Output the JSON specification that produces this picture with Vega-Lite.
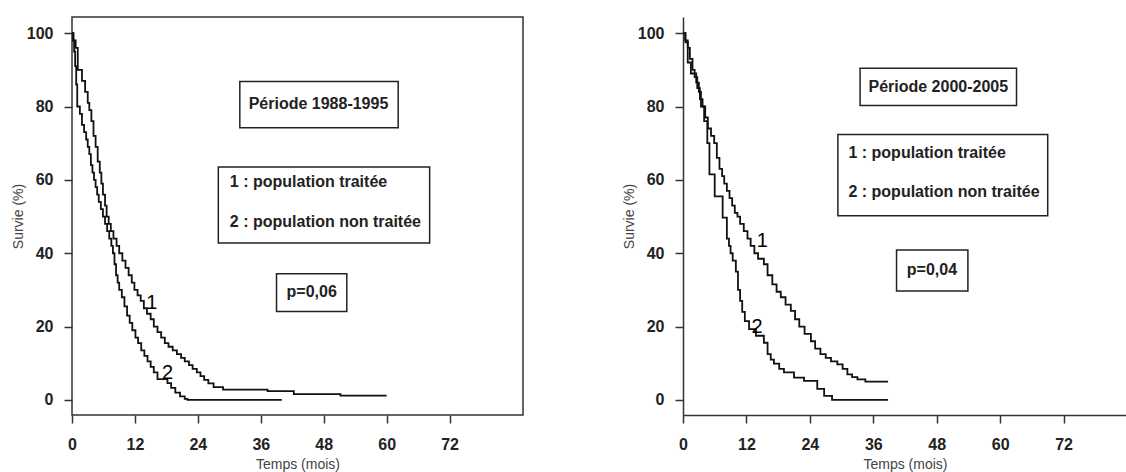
{
  "$schema": "https://vega.github.io/schema/vega-lite/v6.json",
  "padding": {"left": 10, "top": 16, "right": 0, "bottom": 0},
  "background": "white",
  "spacing": 98,
  "config": {
    "font": "Liberation Sans",
    "view": {"stroke": "#333", "strokeWidth": 1.5},
    "axis": {"grid": false, "tickSize": 8, "tickColor": "#333", "tickWidth": 1.5, "domain": false, "domainColor": "#333", "domainWidth": 1.5,
      "labelFont": "Liberation Sans", "labelFontSize": 16, "labelFontWeight": "bold", "labelColor": "#222",
      "titleFont": "Liberation Sans", "titleFontSize": 14, "titleFontWeight": "normal", "titleColor": "#444"},
    "axisX": {"labelPadding": 13, "titlePadding": 5, "labelFlush": false},
    "axisY": {"labelPadding": 11, "titlePadding": 1}
  },
  "datasets": {
    "left_curves": [
      {"curve": "1", "t": 0, "s": 100}, {"curve": "1", "t": 0.3, "s": 98}, {"curve": "1", "t": 0.7, "s": 96}, {"curve": "1", "t": 1.1, "s": 90}, {"curve": "1", "t": 1.9, "s": 87}, {"curve": "1", "t": 2.5, "s": 84}, {"curve": "1", "t": 3.0, "s": 81}, {"curve": "1", "t": 3.3, "s": 79}, {"curve": "1", "t": 3.7, "s": 76}, {"curve": "1", "t": 4.1, "s": 72}, {"curve": "1", "t": 4.5, "s": 69}, {"curve": "1", "t": 4.9, "s": 65}, {"curve": "1", "t": 5.3, "s": 62}, {"curve": "1", "t": 5.6, "s": 59}, {"curve": "1", "t": 5.9, "s": 56}, {"curve": "1", "t": 6.3, "s": 53}, {"curve": "1", "t": 6.6, "s": 50}, {"curve": "1", "t": 7.0, "s": 48}, {"curve": "1", "t": 7.4, "s": 46}, {"curve": "1", "t": 7.9, "s": 44}, {"curve": "1", "t": 8.5, "s": 42}, {"curve": "1", "t": 9.0, "s": 40}, {"curve": "1", "t": 9.6, "s": 38}, {"curve": "1", "t": 10.2, "s": 36}, {"curve": "1", "t": 10.8, "s": 34}, {"curve": "1", "t": 11.4, "s": 32}, {"curve": "1", "t": 11.9, "s": 30}, {"curve": "1", "t": 12.5, "s": 28.5}, {"curve": "1", "t": 13.1, "s": 27}, {"curve": "1", "t": 13.7, "s": 25}, {"curve": "1", "t": 14.3, "s": 23.5}, {"curve": "1", "t": 15.0, "s": 22}, {"curve": "1", "t": 15.6, "s": 20}, {"curve": "1", "t": 16.3, "s": 18.5}, {"curve": "1", "t": 17.0, "s": 17}, {"curve": "1", "t": 17.7, "s": 15.5}, {"curve": "1", "t": 18.4, "s": 14.5}, {"curve": "1", "t": 19.2, "s": 13.5}, {"curve": "1", "t": 20.0, "s": 12.5}, {"curve": "1", "t": 20.8, "s": 11.5}, {"curve": "1", "t": 21.5, "s": 10.5}, {"curve": "1", "t": 22.3, "s": 9.5}, {"curve": "1", "t": 23.0, "s": 8.5}, {"curve": "1", "t": 23.8, "s": 7.5}, {"curve": "1", "t": 24.5, "s": 6.5}, {"curve": "1", "t": 25.2, "s": 5.5}, {"curve": "1", "t": 26.0, "s": 4.5}, {"curve": "1", "t": 27.0, "s": 3.5}, {"curve": "1", "t": 28.8, "s": 2.8}, {"curve": "1", "t": 37.3, "s": 2.4}, {"curve": "1", "t": 42.3, "s": 1.6}, {"curve": "1", "t": 51.2, "s": 1.2}, {"curve": "1", "t": 60, "s": 1.2},
      {"curve": "2", "t": 0, "s": 100}, {"curve": "2", "t": 0.2, "s": 98}, {"curve": "2", "t": 0.4, "s": 95}, {"curve": "2", "t": 0.6, "s": 91}, {"curve": "2", "t": 0.8, "s": 86}, {"curve": "2", "t": 1.0, "s": 80}, {"curve": "2", "t": 1.5, "s": 78}, {"curve": "2", "t": 1.9, "s": 75}, {"curve": "2", "t": 2.3, "s": 73}, {"curve": "2", "t": 2.7, "s": 71}, {"curve": "2", "t": 3.0, "s": 69}, {"curve": "2", "t": 3.3, "s": 67}, {"curve": "2", "t": 3.6, "s": 64}, {"curve": "2", "t": 3.9, "s": 62}, {"curve": "2", "t": 4.2, "s": 60}, {"curve": "2", "t": 4.5, "s": 58}, {"curve": "2", "t": 4.8, "s": 56}, {"curve": "2", "t": 5.1, "s": 54}, {"curve": "2", "t": 5.5, "s": 52}, {"curve": "2", "t": 5.9, "s": 50}, {"curve": "2", "t": 6.3, "s": 48}, {"curve": "2", "t": 6.7, "s": 46}, {"curve": "2", "t": 7.1, "s": 44}, {"curve": "2", "t": 7.5, "s": 42}, {"curve": "2", "t": 7.8, "s": 40}, {"curve": "2", "t": 8.1, "s": 37}, {"curve": "2", "t": 8.4, "s": 34}, {"curve": "2", "t": 8.7, "s": 32}, {"curve": "2", "t": 9.0, "s": 30}, {"curve": "2", "t": 9.5, "s": 28}, {"curve": "2", "t": 10.0, "s": 25.5}, {"curve": "2", "t": 10.5, "s": 23}, {"curve": "2", "t": 11.0, "s": 21}, {"curve": "2", "t": 11.5, "s": 19}, {"curve": "2", "t": 12.1, "s": 17}, {"curve": "2", "t": 12.6, "s": 15.5}, {"curve": "2", "t": 13.2, "s": 13.5}, {"curve": "2", "t": 13.8, "s": 12}, {"curve": "2", "t": 14.4, "s": 10.5}, {"curve": "2", "t": 15.0, "s": 9}, {"curve": "2", "t": 15.6, "s": 7.5}, {"curve": "2", "t": 16.3, "s": 5.7}, {"curve": "2", "t": 18.2, "s": 4.6}, {"curve": "2", "t": 18.9, "s": 3.3}, {"curve": "2", "t": 19.7, "s": 2}, {"curve": "2", "t": 20.6, "s": 1}, {"curve": "2", "t": 21.5, "s": 0.3}, {"curve": "2", "t": 22, "s": 0}, {"curve": "2", "t": 40, "s": 0}
    ],
    "right_curves": [
      {"curve": "1", "t": 0, "s": 100}, {"curve": "1", "t": 0.4, "s": 98}, {"curve": "1", "t": 0.9, "s": 96}, {"curve": "1", "t": 1.3, "s": 93}, {"curve": "1", "t": 1.8, "s": 90}, {"curve": "1", "t": 2.2, "s": 88}, {"curve": "1", "t": 2.7, "s": 85}, {"curve": "1", "t": 3.2, "s": 82}, {"curve": "1", "t": 3.7, "s": 80}, {"curve": "1", "t": 4.2, "s": 77}, {"curve": "1", "t": 4.7, "s": 74}, {"curve": "1", "t": 5.3, "s": 72}, {"curve": "1", "t": 5.9, "s": 70}, {"curve": "1", "t": 6.4, "s": 66}, {"curve": "1", "t": 6.9, "s": 63}, {"curve": "1", "t": 7.4, "s": 61}, {"curve": "1", "t": 7.8, "s": 59}, {"curve": "1", "t": 8.3, "s": 57}, {"curve": "1", "t": 8.8, "s": 55}, {"curve": "1", "t": 9.3, "s": 53}, {"curve": "1", "t": 9.8, "s": 51}, {"curve": "1", "t": 10.3, "s": 50}, {"curve": "1", "t": 10.8, "s": 48}, {"curve": "1", "t": 11.5, "s": 46}, {"curve": "1", "t": 12.2, "s": 44}, {"curve": "1", "t": 12.8, "s": 42}, {"curve": "1", "t": 13.5, "s": 40}, {"curve": "1", "t": 14.2, "s": 38.5}, {"curve": "1", "t": 15.3, "s": 37}, {"curve": "1", "t": 16.0, "s": 34}, {"curve": "1", "t": 16.9, "s": 31.5}, {"curve": "1", "t": 17.7, "s": 29.5}, {"curve": "1", "t": 18.5, "s": 28}, {"curve": "1", "t": 19.4, "s": 26}, {"curve": "1", "t": 20.4, "s": 24.3}, {"curve": "1", "t": 21.2, "s": 22}, {"curve": "1", "t": 22.0, "s": 20}, {"curve": "1", "t": 23.0, "s": 18}, {"curve": "1", "t": 24.2, "s": 16}, {"curve": "1", "t": 25.0, "s": 14}, {"curve": "1", "t": 26.0, "s": 12.5}, {"curve": "1", "t": 27.0, "s": 11.5}, {"curve": "1", "t": 28.0, "s": 10.5}, {"curve": "1", "t": 29.2, "s": 9.7}, {"curve": "1", "t": 30.2, "s": 8.5}, {"curve": "1", "t": 31.1, "s": 7}, {"curve": "1", "t": 32.0, "s": 6.2}, {"curve": "1", "t": 33.0, "s": 5.6}, {"curve": "1", "t": 34.5, "s": 5}, {"curve": "1", "t": 38.8, "s": 5},
      {"curve": "2", "t": 0, "s": 100}, {"curve": "2", "t": 0.5, "s": 97.5}, {"curve": "2", "t": 0.9, "s": 92}, {"curve": "2", "t": 1.5, "s": 89}, {"curve": "2", "t": 2.5, "s": 86.5}, {"curve": "2", "t": 3.0, "s": 84}, {"curve": "2", "t": 3.4, "s": 80}, {"curve": "2", "t": 4.0, "s": 76}, {"curve": "2", "t": 4.6, "s": 70}, {"curve": "2", "t": 5.0, "s": 61.5}, {"curve": "2", "t": 6.0, "s": 55.5}, {"curve": "2", "t": 7.5, "s": 49.7}, {"curve": "2", "t": 8.3, "s": 44}, {"curve": "2", "t": 8.7, "s": 42}, {"curve": "2", "t": 9.0, "s": 40}, {"curve": "2", "t": 9.4, "s": 38}, {"curve": "2", "t": 10.0, "s": 35}, {"curve": "2", "t": 10.4, "s": 30}, {"curve": "2", "t": 10.8, "s": 27}, {"curve": "2", "t": 11.2, "s": 24}, {"curve": "2", "t": 11.7, "s": 21.5}, {"curve": "2", "t": 12.5, "s": 19.3}, {"curve": "2", "t": 13.8, "s": 17.5}, {"curve": "2", "t": 15.3, "s": 15.6}, {"curve": "2", "t": 16.0, "s": 12.5}, {"curve": "2", "t": 16.6, "s": 11}, {"curve": "2", "t": 17.2, "s": 9.9}, {"curve": "2", "t": 18.2, "s": 8.5}, {"curve": "2", "t": 19.1, "s": 7.5}, {"curve": "2", "t": 21.0, "s": 6.1}, {"curve": "2", "t": 22.9, "s": 5.2}, {"curve": "2", "t": 25.4, "s": 3.0}, {"curve": "2", "t": 26.7, "s": 1.1}, {"curve": "2", "t": 28.2, "s": 0}, {"curve": "2", "t": 38.8, "s": 0}
    ],
    "left_boxes": [
      {"t": 32.0, "t2": 62.2, "s": 86.8, "s2": 74.2},
      {"t": 27.9, "t2": 68.2, "s": 63.5, "s2": 42.8},
      {"t": 39.0, "t2": 52.4, "s": 34.4, "s2": 24.1}
    ],
    "left_center_text": [
      {"t": 47.0, "s": 80.6, "label": "Période 1988-1995"},
      {"t": 45.7, "s": 29.3, "label": "p=0,06"}
    ],
    "left_left_text": [
      {"t": 30.1, "s": 59.4, "label": "1 : population traitée"},
      {"t": 30.1, "s": 48.4, "label": "2 : population non traitée"}
    ],
    "left_curve_labels": [
      {"t": 15.2, "s": 26.3, "label": "1"},
      {"t": 18.2, "s": 7.4, "label": "2"}
    ],
    "right_boxes": [
      {"t": 33.5, "t2": 63.1, "s": 90.4, "s2": 80.3},
      {"t": 29.3, "t2": 69.0, "s": 72.4, "s2": 50.2},
      {"t": 40.4, "t2": 53.9, "s": 40.9, "s2": 29.7}
    ],
    "right_center_text": [
      {"t": 48.3, "s": 85.3, "label": "Période 2000-2005"},
      {"t": 47.1, "s": 35.3, "label": "p=0,04"}
    ],
    "right_left_text": [
      {"t": 31.3, "s": 67.4, "label": "1 : population traitée"},
      {"t": 31.3, "s": 56.8, "label": "2 : population non traitée"}
    ],
    "right_curve_labels": [
      {"t": 15.0, "s": 43.3, "label": "1"},
      {"t": 14.0, "s": 20.0, "label": "2"}
    ]
  },
  "hconcat": [
    {
      "width": 451,
      "height": 398,
      "layer": [
        {
          "data": {"name": "left_curves"},
          "mark": {"type": "line", "interpolate": "step-after", "color": "#111", "strokeWidth": 1.8},
          "encoding": {
            "x": {"field": "t", "type": "quantitative", "title": "Temps (mois)", "scale": {"domain": [0, 86], "nice": false, "zero": false}, "axis": {"values": [0, 12, 24, 36, 48, 60, 72]}},
            "y": {"field": "s", "type": "quantitative", "title": "Survie (%)", "scale": {"domain": [-4.1, 104.4], "nice": false, "zero": false}, "axis": {"values": [0, 20, 40, 60, 80, 100]}},
            "detail": {"field": "curve", "type": "nominal"}
          }
        },
        {
          "data": {"name": "left_boxes"},
          "mark": {"type": "rect", "fill": "white", "stroke": "#222", "strokeWidth": 1.5},
          "encoding": {
            "x": {"field": "t", "type": "quantitative", "title": "Temps (mois)"},
            "x2": {"field": "t2"},
            "y": {"field": "s", "type": "quantitative", "title": "Survie (%)"},
            "y2": {"field": "s2"}
          }
        },
        {
          "data": {"name": "left_center_text"},
          "mark": {"type": "text", "fontSize": 16, "fontWeight": "bold", "color": "#222", "align": "center", "baseline": "middle"},
          "encoding": {
            "x": {"field": "t", "type": "quantitative", "title": "Temps (mois)"},
            "y": {"field": "s", "type": "quantitative", "title": "Survie (%)"},
            "text": {"field": "label"}
          }
        },
        {
          "data": {"name": "left_left_text"},
          "mark": {"type": "text", "fontSize": 16, "fontWeight": "bold", "color": "#222", "align": "left", "baseline": "middle"},
          "encoding": {
            "x": {"field": "t", "type": "quantitative", "title": "Temps (mois)"},
            "y": {"field": "s", "type": "quantitative", "title": "Survie (%)"},
            "text": {"field": "label"}
          }
        },
        {
          "data": {"name": "left_curve_labels"},
          "mark": {"type": "text", "fontSize": 20, "fontWeight": "normal", "color": "#000", "align": "center", "baseline": "middle"},
          "encoding": {
            "x": {"field": "t", "type": "quantitative", "title": "Temps (mois)"},
            "y": {"field": "s", "type": "quantitative", "title": "Survie (%)"},
            "text": {"field": "label"}
          }
        }
      ]
    },
    {
      "width": 444,
      "height": 398,
      "view": {"stroke": null},
      "layer": [
        {
          "data": {"name": "right_curves"},
          "mark": {"type": "line", "interpolate": "step-after", "color": "#111", "strokeWidth": 1.8},
          "encoding": {
            "x": {"field": "t", "type": "quantitative", "title": "Temps (mois)", "scale": {"domain": [0, 84], "nice": false, "zero": false}, "axis": {"values": [0, 12, 24, 36, 48, 60, 72], "domain": true}},
            "y": {"field": "s", "type": "quantitative", "title": "Survie (%)", "scale": {"domain": [-4.1, 104.4], "nice": false, "zero": false}, "axis": {"values": [0, 20, 40, 60, 80, 100], "domain": true}},
            "detail": {"field": "curve", "type": "nominal"}
          }
        },
        {
          "mark": {"type": "rule", "color": "#333", "strokeWidth": 1.5},
          "encoding": {"y": {"datum": 104.4}}
        },
        {
          "data": {"name": "right_boxes"},
          "mark": {"type": "rect", "fill": "white", "stroke": "#222", "strokeWidth": 1.5},
          "encoding": {
            "x": {"field": "t", "type": "quantitative", "title": "Temps (mois)"},
            "x2": {"field": "t2"},
            "y": {"field": "s", "type": "quantitative", "title": "Survie (%)"},
            "y2": {"field": "s2"}
          }
        },
        {
          "data": {"name": "right_center_text"},
          "mark": {"type": "text", "fontSize": 16, "fontWeight": "bold", "color": "#222", "align": "center", "baseline": "middle"},
          "encoding": {
            "x": {"field": "t", "type": "quantitative", "title": "Temps (mois)"},
            "y": {"field": "s", "type": "quantitative", "title": "Survie (%)"},
            "text": {"field": "label"}
          }
        },
        {
          "data": {"name": "right_left_text"},
          "mark": {"type": "text", "fontSize": 16, "fontWeight": "bold", "color": "#222", "align": "left", "baseline": "middle"},
          "encoding": {
            "x": {"field": "t", "type": "quantitative", "title": "Temps (mois)"},
            "y": {"field": "s", "type": "quantitative", "title": "Survie (%)"},
            "text": {"field": "label"}
          }
        },
        {
          "data": {"name": "right_curve_labels"},
          "mark": {"type": "text", "fontSize": 20, "fontWeight": "normal", "color": "#000", "align": "center", "baseline": "middle"},
          "encoding": {
            "x": {"field": "t", "type": "quantitative", "title": "Temps (mois)"},
            "y": {"field": "s", "type": "quantitative", "title": "Survie (%)"},
            "text": {"field": "label"}
          }
        }
      ]
    }
  ]
}
